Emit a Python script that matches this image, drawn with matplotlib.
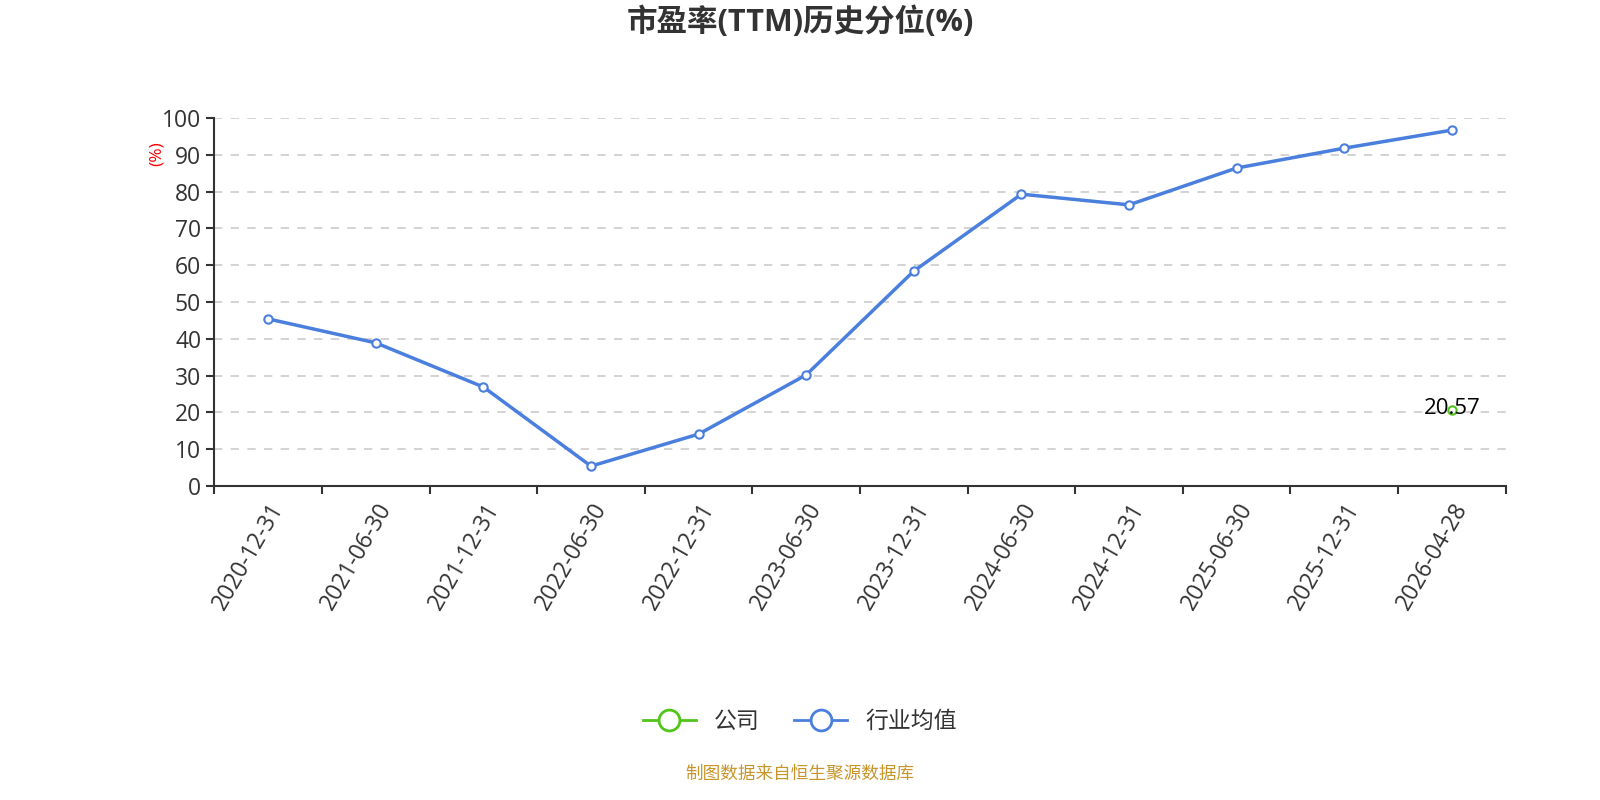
import matplotlib.pyplot as plt
from matplotlib.lines import Line2D

plt.rcParams['font.family'] = ['Open Sans', 'Noto Sans CJK SC', 'DejaVu Sans']

dates = ["2020-12-31", "2021-06-30", "2021-12-31", "2022-06-30", "2022-12-31",
         "2023-06-30", "2023-12-31", "2024-06-30", "2024-12-31", "2025-06-30",
         "2025-12-31", "2026-04-28"]
industry = [45.4, 38.9, 26.9, 5.4, 14.1, 30.2, 58.4, 79.3, 76.4, 86.4, 91.8, 96.7]
company_dates = ["2026-04-28"]
company = [20.57]

blue = "#4a7fde"
green = "#52c41a"

fig = plt.figure(figsize=(16, 8), dpi=100)
ax = fig.add_axes([0.134, 0.3925, 0.807, 0.46])

x = list(range(len(dates)))
ax.plot(x, industry, color=blue, linewidth=2.5, marker="o", markersize=6,
        markerfacecolor="white", markeredgecolor=blue, markeredgewidth=1.5, zorder=3)

cx = [dates.index(d) for d in company_dates]
ax.plot(cx, company, color=green, linewidth=2, marker="o", markersize=6,
        markerfacecolor="white", markeredgecolor=green, markeredgewidth=1.5, zorder=4)
for xi, v in zip(cx, company):
    ax.text(xi, v + 0.5, f"{v:.2f}", ha="center", va="center", fontsize=16, color="black", zorder=5)

ax.set_xlim(-0.5, len(dates) - 0.5)
ax.set_ylim(0, 100)
ax.set_yticks(range(0, 101, 10))
ax.set_xticks([i - 0.5 for i in range(len(dates) + 1)], minor=False)
ax.set_xticklabels([""] * (len(dates) + 1))
ax.set_xticks(x, minor=True)
ax.set_xticklabels(dates, minor=True, rotation=60, ha="right", rotation_mode="anchor",
                   fontsize=16.5, color="#333333")
ax.tick_params(axis="x", which="minor", length=0, pad=9)
ax.tick_params(axis="x", which="major", length=6, width=1.5, color="#333333")
ax.tick_params(axis="y", length=6, width=1.5, color="#333333", labelsize=16.5, labelcolor="#333333")

ax.grid(axis="y", linestyle=(0, (5, 5)), color="#cccccc", linewidth=1.2)
ax.set_axisbelow(True)
for s in ["top", "right"]:
    ax.spines[s].set_visible(False)
ax.spines["left"].set_linewidth(1.5)
ax.spines["bottom"].set_linewidth(1.5)
ax.spines["left"].set_color("#333333")
ax.spines["bottom"].set_color("#333333")

fig.text(0.098, 0.808, "(%)", color="red", rotation=90, ha="center", va="center", fontsize=12.5)

fig.text(0.5, 0.972, "市盈率(TTM)历史分位(%)", ha="center", va="center",
         fontsize=22, fontweight="bold", color="#333333")

handles = [
    Line2D([0], [0], color=green, linewidth=2, marker="o", markersize=15,
           markerfacecolor="white", markeredgecolor=green, markeredgewidth=2),
    Line2D([0], [0], color=blue, linewidth=2, marker="o", markersize=15,
           markerfacecolor="white", markeredgecolor=blue, markeredgewidth=2),
]
fig.legend(handles, ["公司", "行业均值"], loc="center", bbox_to_anchor=(0.5, 0.098),
           ncol=2, frameon=False, fontsize=16.5, handlelength=2.3, columnspacing=1.5,
           labelcolor="#333333")

fig.text(0.5, 0.033, "制图数据来自恒生聚源数据库", ha="center", va="center",
         fontsize=12.7, color="#c8952a")

fig.savefig("out.png", dpi=100)
